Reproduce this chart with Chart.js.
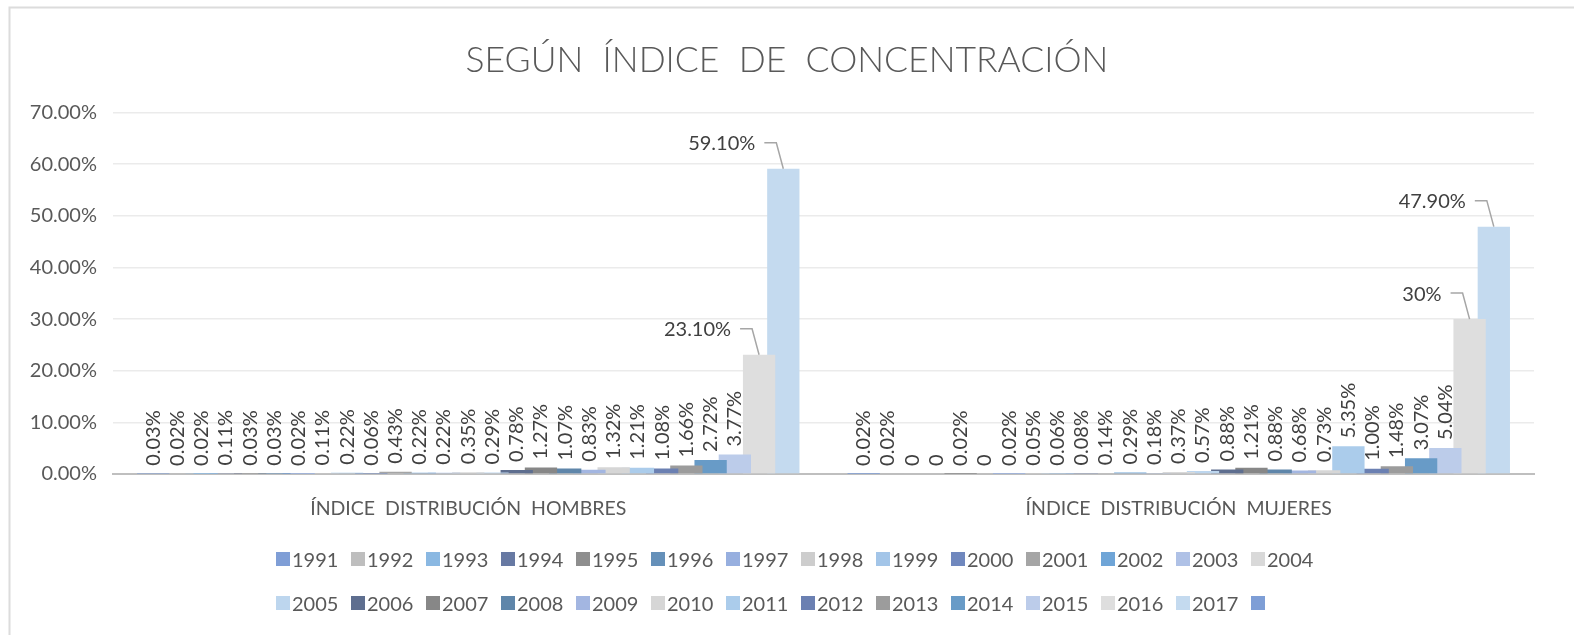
<!DOCTYPE html>
<html>
<head>
<meta charset="utf-8">
<title>Según índice de concentración</title>
<script src="https://cdn.jsdelivr.net/npm/chart.js@4.4.0/dist/chart.umd.min.js"></script>
<style>
  html, body { margin: 0; padding: 0; background: #fff; }
  canvas { display: block; }
</style>
</head>
<body>
<canvas id="concentrationChart" width="1574" height="635"></canvas>
<script>
const chartTitle = 'SEGÚN  ÍNDICE  DE  CONCENTRACIÓN';
const categories = ['ÍNDICE  DISTRIBUCIÓN  HOMBRES', 'ÍNDICE  DISTRIBUCIÓN  MUJERES'];
const years = ['1991', '1992', '1993', '1994', '1995', '1996', '1997', '1998', '1999', '2000',
  '2001', '2002', '2003', '2004', '2005', '2006', '2007', '2008', '2009', '2010',
  '2011', '2012', '2013', '2014', '2015', '2016', '2017', ''];

// data labels as printed on the chart, one per year
const hombres = ['0.03%', '0.02%', '0.02%', '0.11%', '0.03%', '0.03%', '0.02%', '0.11%', '0.22%', '0.06%',
  '0.43%', '0.22%', '0.22%', '0.35%', '0.29%', '0.78%', '1.27%', '1.07%', '0.83%', '1.32%',
  '1.21%', '1.08%', '1.66%', '2.72%', '3.77%', '23.10%', '59.10%'];
const mujeres = ['0.02%', '0.02%', '0', '0', '0.02%', '0', '0.02%', '0.05%', '0.06%', '0.08%',
  '0.14%', '0.29%', '0.18%', '0.37%', '0.57%', '0.88%', '1.21%', '0.88%', '0.68%', '0.73%',
  '5.35%', '1.00%', '1.48%', '3.07%', '5.04%', '30%', '47.90%'];

const yMin = 0;
const yMax = 70;
const yStep = 10;

const palette = ['#7F9ED6', '#BEBEBE', '#8AB8E2', '#6779A3', '#8E8E8E', '#6590B9', '#97AFDF', '#CDCDCD',
  '#A3C5E8', '#7088BE', '#A5A5A5', '#6FA5D7', '#AFC1E6', '#D9D9D9', '#BDD6EE', '#5E6E8F',
  '#878787', '#5F86AA', '#A3B6E1', '#D6D6D6', '#ABCCEB', '#6B80B2', '#9C9C9C', '#689BC7',
  '#BCCCEA', '#DEDEDE', '#C4DAEF', '#7E9ED6'];

const textColor = '#595959';

const datasets = years.map((year, i) => {
  const labels = i < hombres.length ? [hombres[i], mujeres[i]] : [null, null];
  return {
    label: year,
    data: labels.map(l => l === null ? null : parseFloat(l)),
    valueLabels: labels,
    backgroundColor: palette[i],
    borderWidth: 0
  };
});

// white background and the frame line of the chart box
const frame = {
  id: 'frame',
  beforeDraw(chart) {
    const ctx = chart.ctx;
    ctx.save();
    ctx.fillStyle = '#fff';
    ctx.fillRect(0, 0, chart.width, chart.height);
    ctx.strokeStyle = '#DCDCDC';
    ctx.lineWidth = 2;
    ctx.beginPath();
    ctx.moveTo(9.5, chart.height + 5);
    ctx.lineTo(9.5, 7.5);
    ctx.lineTo(chart.width + 5, 7.5);
    ctx.stroke();
    ctx.restore();
  }
};

const barLabels = {
  id: 'barLabels',
  afterDatasetsDraw(chart) {
    const ctx = chart.ctx;
    ctx.save();
    ctx.font = '20px Lato';
    ctx.fillStyle = '#404040';
    chart.data.datasets.forEach((ds, i) => {
      const meta = chart.getDatasetMeta(i);
      meta.data.forEach((bar, j) => {
        const text = ds.valueLabels[j];
        if (text === null || bar.skip) return;
        const v = ds.data[j];
        if (v >= 20) {
          // callout with leader line
          ctx.textAlign = 'right';
          ctx.textBaseline = 'middle';
          ctx.fillText(text, bar.x - 28, bar.y - 25);
          ctx.strokeStyle = '#A6A6A6';
          ctx.lineWidth = 1.5;
          ctx.beginPath();
          ctx.moveTo(bar.x - 19, bar.y - 26);
          ctx.lineTo(bar.x - 7, bar.y - 26);
          ctx.lineTo(bar.x, bar.y);
          ctx.stroke();
        } else {
          ctx.save();
          ctx.translate(bar.x, bar.y - 8);
          ctx.rotate(-Math.PI / 2);
          ctx.textAlign = 'left';
          ctx.textBaseline = 'middle';
          ctx.fillText(text, 0, 0);
          ctx.restore();
        }
      });
    });
    ctx.restore();
  }
};

// title and the two-row legend, laid out like the spreadsheet one
const titleAndLegend = {
  id: 'titleAndLegend',
  afterDraw(chart) {
    const ctx = chart.ctx;
    ctx.save();
    ctx.fillStyle = textColor;
    ctx.font = '300 35.5px Lato';
    ctx.textAlign = 'center';
    ctx.textBaseline = 'alphabetic';
    ctx.fillText(chartTitle, chart.width / 2, 72);

    const dsList = chart.data.datasets;
    const perRow = Math.ceil(dsList.length / 2);
    ctx.font = '20px Lato';
    ctx.textAlign = 'left';
    ctx.textBaseline = 'middle';
    dsList.forEach((ds, i) => {
      const row = Math.floor(i / perRow);
      const col = i % perRow;
      const x = 276 + col * 75;
      const y = 559 + row * 44;
      ctx.fillStyle = ds.backgroundColor;
      ctx.fillRect(x, y - 7, 14, 14);
      ctx.fillStyle = textColor;
      ctx.fillText(ds.label, x + 16, y + 2);
    });
    ctx.restore();
  }
};

Chart.defaults.font.family = 'Lato';
Chart.defaults.color = textColor;

new Chart(document.getElementById('concentrationChart'), {
  type: 'bar',
  data: { labels: categories, datasets: datasets },
  options: {
    responsive: false,
    animation: false,
    events: [],
    skipNull: true,
    categoryPercentage: 0.921,
    barPercentage: 1.333,
    layout: { padding: { top: 112.5, right: 40, bottom: 101, left: 0 } },
    plugins: {
      legend: { display: false },
      tooltip: { enabled: false },
      title: { display: false }
    },
    scales: {
      x: {
        grid: { display: false },
        border: { display: true, color: '#BFBFBF', width: 2 },
        ticks: { padding: 15, font: { size: 19.5 }, color: textColor },
        afterFit: (axis) => { axis.height = 60; }
      },
      y: {
        min: yMin,
        max: yMax,
        grid: { color: '#EBEBEB', lineWidth: 1.5, drawTicks: false },
        border: { display: false },
        ticks: {
          stepSize: yStep,
          padding: 16,
          font: { size: 20 },
          color: textColor,
          callback: (v) => v.toFixed(2) + '%'
        },
        afterFit: (axis) => { axis.width = 113; }
      }
    }
  },
  plugins: [frame, barLabels, titleAndLegend]
});
</script>
</body>
</html>
